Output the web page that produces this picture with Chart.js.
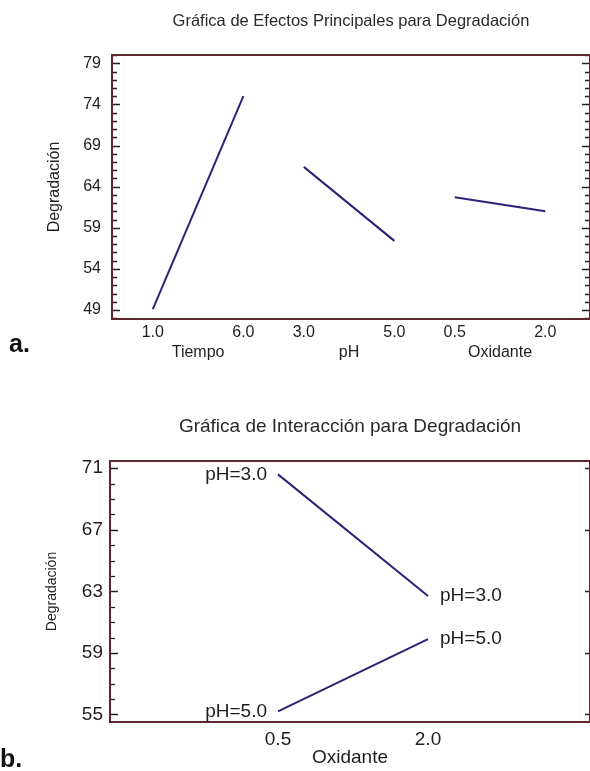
<!DOCTYPE html>
<html>
<head>
<meta charset="utf-8">
<script src="https://cdn.jsdelivr.net/npm/chart.js@4/dist/chart.umd.min.js"></script>
<style>
  html, body { margin:0; padding:0; background:#fff; width:590px; height:771px; overflow:hidden; }
  canvas { position:absolute; left:0; }
  #cA { top:0; }
  #cB { top:385px; }
  .tag { position:absolute; font-family:"Liberation Sans", Arial, sans-serif; font-weight:bold; font-size:25px; color:#111; }
</style>
</head>
<body>
<canvas id="cA" width="590" height="385"></canvas>
<canvas id="cB" width="590" height="386"></canvas>
<div class="tag" style="left:9px; top:329px;">a.</div>
<div class="tag" style="left:0px; top:744px;">b.</div>
<script>
// ---------- data ----------
const factors = ['Tiempo', 'pH', 'Oxidante'];
const levelLabels = [['1.0', '6.0'], ['3.0', '5.0'], ['0.5', '2.0']];
const lowMeans = [49.1, 66.4, 62.7];
const highMeans = [75.0, 57.4, 61.0];
const yTicksA = [49, 54, 59, 64, 69, 74, 79];

const oxidLevels = [0.5, 2.0];
const oxidLabels = ['0.5', '2.0'];
const pH3 = [70.6, 62.7];
const pH5 = [55.2, 59.9];
const seriesLabels = ['pH=3.0', 'pH=5.0'];
const yTicksB = [55, 59, 63, 67, 71];

// ---------- styling ----------
const FONT = '"Liberation Sans", Arial, Helvetica, sans-serif';
const LINE = '#2b2376';
const FRAME = '#5e2630';
const TXT = '#1e1e1e';

// x position of factor i, level j on the main-effects axis
const posOf = (i, j) => i * 2.5 + j * 1.5;

const frameTicks = {
  id: 'frameTicks',
  afterDraw(chart, args, opts) {
    const { ctx, chartArea: a, scales: { y } } = chart;
    ctx.save();
    ctx.strokeStyle = '#222';
    ctx.lineWidth = 1.3;
    y.ticks.forEach(t => {
      const py = Math.round(y.getPixelForValue(t.value)) + 0.5;
      const major = t.label !== '';
      ctx.beginPath();
      ctx.moveTo(a.left, py); ctx.lineTo(a.left + (major ? 8 : 5), py);
      if (opts.rightAll || major) {
        ctx.moveTo(a.right, py); ctx.lineTo(a.right - (opts.rightAll ? (major ? 8 : 5) : 5), py);
      }
      ctx.stroke();
    });
    ctx.strokeStyle = FRAME;
    ctx.lineWidth = 2;
    ctx.strokeRect(a.left, a.top, a.right - a.left, a.bottom - a.top);
    ctx.restore();
  }
};

const endLabels = {
  id: 'endLabels',
  afterDatasetsDraw(chart) {
    const { ctx } = chart;
    ctx.save();
    ctx.font = '19px ' + FONT;
    ctx.fillStyle = TXT;
    ctx.textBaseline = 'middle';
    chart.data.datasets.forEach((ds, i) => {
      const pts = chart.getDatasetMeta(i).data;
      const p0 = pts[0], p1 = pts[pts.length - 1];
      ctx.textAlign = 'right';
      ctx.fillText(ds.label, p0.x - 11, p0.y);
      ctx.textAlign = 'left';
      ctx.fillText(ds.label, p1.x + 12, p1.y);
    });
    ctx.restore();
  }
};

function intTicks(scale, majors) {
  const ticks = [];
  for (let v = Math.ceil(scale.min); v <= Math.floor(scale.max); v++) ticks.push({ value: v, major: majors.includes(v) });
  scale.ticks = ticks;
}

// ---------- chart a ----------
const dsA = factors.map((f, i) => ({
  label: f,
  data: [{ x: posOf(i, 0), y: lowMeans[i] }, { x: posOf(i, 1), y: highMeans[i] }],
  borderColor: LINE, borderWidth: 2, pointRadius: 0, tension: 0, fill: false
}));

const xTickPos = [];
const xTickText = [];
factors.forEach((f, i) => {
  xTickPos.push(posOf(i, 0), (posOf(i, 0) + posOf(i, 1)) / 2, posOf(i, 1));
  xTickText.push(levelLabels[i][0], ['', f], levelLabels[i][1]);
});

new Chart(document.getElementById('cA'), {
  type: 'line',
  data: { datasets: dsA },
  options: {
    responsive: false, animation: false, devicePixelRatio: 1,
    layout: { padding: { left: 0, right: 0, top: 0, bottom: 0 } },
    plugins: {
      legend: { display: false }, tooltip: { enabled: false },
      title: {
        display: true, fullSize: false,
        text: 'Gráfica de Efectos Principales para Degradación',
        color: '#2a2a2a', font: { family: FONT, size: 16.5, weight: 'normal', lineHeight: 1.2 },
        padding: { top: 12, bottom: 23.2 }
      },
      frameTicks: { rightAll: true }
    },
    scales: {
      x: {
        type: 'linear', min: -0.676, max: 7.24,
        grid: { display: false, drawTicks: false }, border: { display: false },
        afterBuildTicks: s => { s.ticks = xTickPos.map(v => ({ value: v })); },
        afterFit: s => { s.height = 66; },
        ticks: {
          autoSkip: false, maxRotation: 0, minRotation: 0, padding: 4, color: TXT,
          font: { family: FONT, size: 16, lineHeight: 1.25 },
          callback: (v, idx) => xTickText[idx]
        }
      },
      y: {
        min: 47.9, max: 80.01,
        grid: { display: false, drawTicks: false }, border: { display: false },
        afterBuildTicks: s => intTicks(s, yTicksA),
        afterFit: s => { s.width = 112; },
        ticks: {
          autoSkip: false, padding: 11, color: TXT,
          font: { family: FONT, size: 16 },
          callback: v => (yTicksA.includes(v) ? String(v) : '')
        },
        title: {
          display: true, text: 'Degradación', color: TXT,
          font: { family: FONT, size: 16 }, padding: { top: 45.4 }
        }
      }
    }
  },
  plugins: [frameTicks]
});

// ---------- chart b ----------
const dsB = [pH3, pH5].map((vals, k) => ({
  label: seriesLabels[k],
  data: oxidLevels.map((x, j) => ({ x: x, y: vals[j] })),
  borderColor: LINE, borderWidth: 2, pointRadius: 0, tension: 0, fill: false
}));

new Chart(document.getElementById('cB'), {
  type: 'line',
  data: { datasets: dsB },
  options: {
    responsive: false, animation: false, devicePixelRatio: 1,
    layout: { padding: { left: 0, right: 0, top: 0, bottom: 0 } },
    plugins: {
      legend: { display: false }, tooltip: { enabled: false },
      title: {
        display: true, fullSize: false,
        text: 'Gráfica de Interacción para Degradación',
        color: '#2a2a2a', font: { family: FONT, size: 19, weight: 'normal', lineHeight: 1.2 },
        padding: { top: 30.6, bottom: 22.6 }
      },
      frameTicks: { rightAll: false }
    },
    scales: {
      x: {
        type: 'linear', min: -1.18, max: 3.62,
        grid: { display: false, drawTicks: false }, border: { display: false },
        afterBuildTicks: s => { s.ticks = oxidLevels.map(v => ({ value: v })); },
        afterFit: s => { s.height = 49; },
        ticks: {
          autoSkip: false, maxRotation: 0, minRotation: 0, padding: 6.6, color: TXT,
          font: { family: FONT, size: 19 },
          callback: (v, idx) => oxidLabels[idx]
        },
        title: {
          display: true, text: 'Oxidante', color: TXT,
          font: { family: FONT, size: 19 }, padding: { top: 0, bottom: 1.6 }
        }
      },
      y: {
        min: 54.51, max: 71.47,
        grid: { display: false, drawTicks: false }, border: { display: false },
        afterBuildTicks: s => intTicks(s, yTicksB),
        afterFit: s => { s.width = 110; },
        ticks: {
          autoSkip: false, padding: 7, color: TXT,
          font: { family: FONT, size: 19 },
          callback: v => (yTicksB.includes(v) ? String(v) : '')
        },
        title: {
          display: true, text: 'Degradación', color: TXT,
          font: { family: FONT, size: 14 }, padding: { top: 43.6 }
        }
      }
    }
  },
  plugins: [frameTicks, endLabels]
});
</script>
</body>
</html>
